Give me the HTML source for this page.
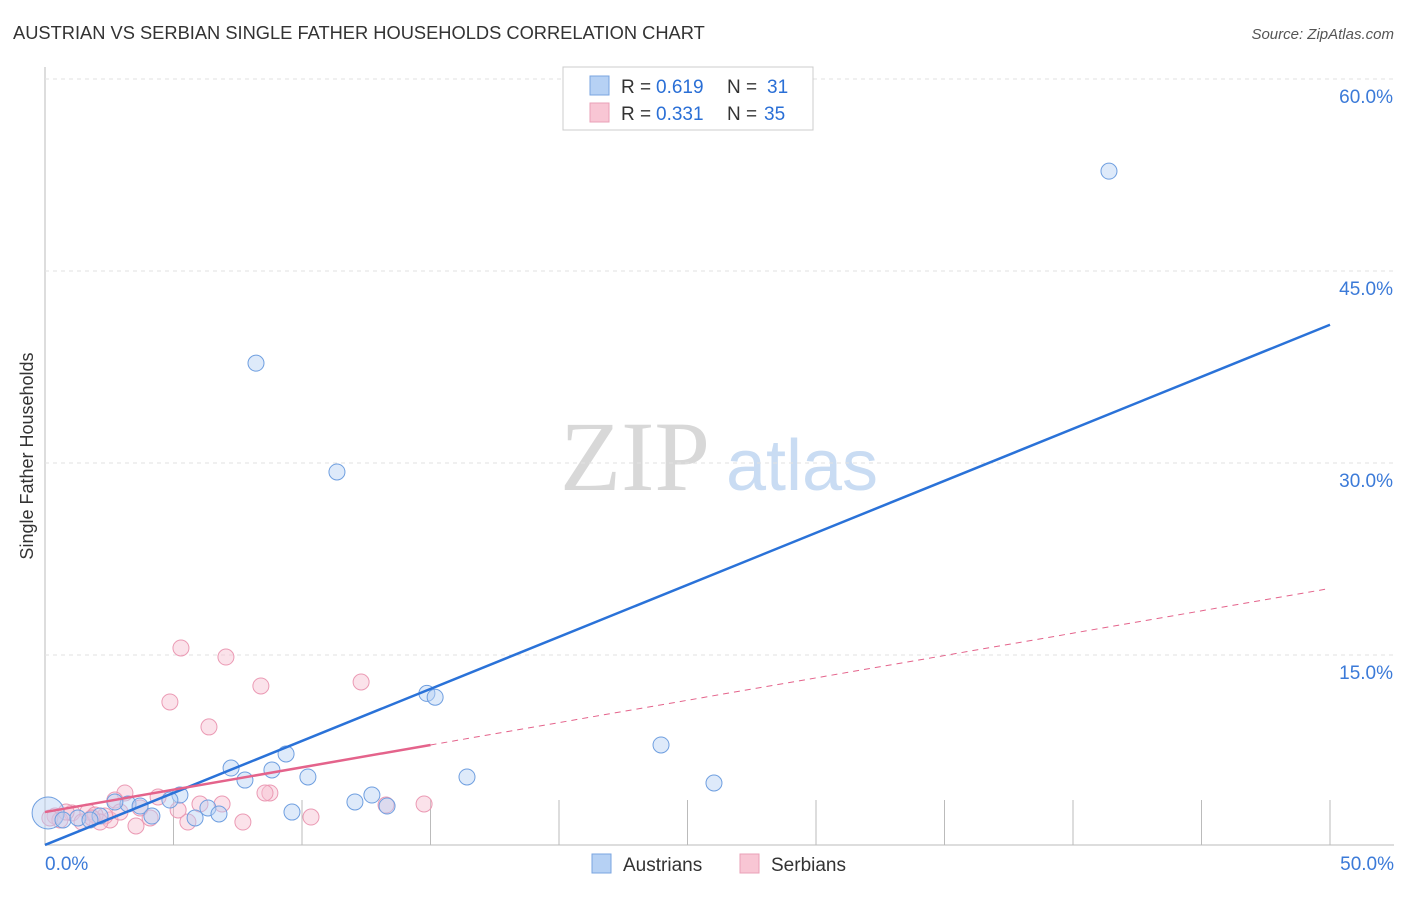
<!DOCTYPE html>
<html><head><meta charset="utf-8"><style>
body{margin:0;background:#fff;font-family:"Liberation Sans",sans-serif}
svg text{font-family:"Liberation Sans",sans-serif}
</style></head><body>
<svg id="c" width="1406" height="892">
<text x="13" y="39" font-size="18.3" fill="#333">AUSTRIAN VS SERBIAN SINGLE FATHER HOUSEHOLDS CORRELATION CHART</text>
<text x="1394" y="39" font-size="15" fill="#555" font-style="italic" text-anchor="end">Source: ZipAtlas.com</text>
<text x="33" y="456" font-size="18" fill="#333" text-anchor="middle" transform="rotate(-90 33 456)">Single Father Households</text>
<text x="635" y="490" font-size="100" fill="#d8d8d8" style="font-family:'Liberation Serif',serif" text-anchor="middle">ZIP</text>
<text x="802" y="490" font-size="72" fill="#c9dcf3" text-anchor="middle">atlas</text>
<g id="grid"></g><g id="marks"></g>
<g>
<rect x="563" y="67" width="250" height="63" fill="#fff" stroke="#ccc"/>
<rect x="590" y="76" width="19" height="19" fill="#b6d1f4" stroke="#7aa5e0"/>
<rect x="590" y="103" width="19" height="19" fill="#f8c6d4" stroke="#eaa0b7"/>
<text x="621" y="93" font-size="19" fill="#333">R =</text>
<text x="656" y="93" font-size="19" fill="#2a6fd6">0.619</text>
<text x="727" y="93" font-size="19" fill="#333">N =</text>
<text x="767" y="93" font-size="19" fill="#2a6fd6">31</text>
<text x="621" y="120" font-size="19" fill="#333">R =</text>
<text x="656" y="120" font-size="19" fill="#2a6fd6">0.331</text>
<text x="727" y="120" font-size="19" fill="#333">N =</text>
<text x="764" y="120" font-size="19" fill="#2a6fd6">35</text>
</g>
<g>
<rect x="592" y="854" width="19" height="19" fill="#b6d1f4" stroke="#7aa5e0"/>
<text x="623" y="871" font-size="19" fill="#333">Austrians</text>
<rect x="740" y="854" width="19" height="19" fill="#f8c6d4" stroke="#eaa0b7"/>
<text x="771" y="871" font-size="19" fill="#333">Serbians</text>
</g>
</svg>
<script>
const yTicks=[15,30,45,60];
const xLabels=["0.0%","50.0%"];
const ausX=[41.4,8.21,11.36,14.86,15.18,23.97,26.03,7.24,9.38,7.78,8.83,10.23,16.42,5.25,4.86,12.06,12.72,13.31,9.61,6.34,6.77,5.84,4.16,3.23,2.72,3.70,0.12,0.70,1.28,2.14,1.75];
const ausY=[52.8,37.8,29.3,12.0,11.7,7.97,5.0,6.17,7.27,5.23,6.02,5.47,5.47,4.06,3.67,3.52,4.06,3.2,2.73,3.05,2.58,2.27,2.42,3.36,3.52,3.2,2.66,2.11,2.27,2.42,2.11];
const serX=[5.29,7.04,4.86,8.40,12.30,6.38,3.11,4.40,2.72,8.75,8.56,6.03,6.89,14.75,10.35,7.70,5.56,3.54,4.09,2.53,2.33,1.67,1.05,0.39,0.58,1.44,1.95,3.70,2.14,0.19,2.92,0.82,1.83,5.18,13.27];
const serY=[15.55,14.84,11.33,12.58,12.89,9.38,4.22,3.91,3.67,4.22,4.22,3.36,3.36,3.36,2.34,1.95,1.95,1.64,2.27,2.11,2.42,2.73,2.66,2.42,2.11,1.95,2.5,3.05,1.95,2.27,2.73,2.73,2.27,2.89,3.28];
const ausFit=[0.16,40.8];
const serFit=[2.73,20.2];
const X=v=>45+v/50*1285, Y=v=>847-v*12.8;
const NS="http://www.w3.org/2000/svg";
function mk(t,a,p){const e=document.createElementNS(NS,t);for(const k in a)e.setAttribute(k,a[k]);p.appendChild(e);return e;}
const g=document.getElementById('grid'),m=document.getElementById('marks');
let ax=mk('line',{x1:45,y1:67,x2:45,y2:845,stroke:'#bbb'},g);


let bx=mk('line',{x1:45,y1:845,x2:1394,y2:845,stroke:'#bbb'},g);


yTicks.forEach(t=>{
 const l=mk('line',{x1:45,x2:1394,y1:Y(t),y2:Y(t),stroke:'#e2e2e2','stroke-dasharray':'4 4'},g);
 
 
 const tx=mk('text',{x:1393,y:Y(t)+24,'font-size':19,fill:'#3b7ad8','text-anchor':'end'},g);tx.textContent=t.toFixed(1)+'%';
 
 
});
for(let i=1;i<=10;i++){const l=mk('line',{x1:X(i*5),x2:X(i*5),y1:800,y2:845,stroke:'#bbb'},g);
 
 }
[[0,'start',45],[50,'end',1394]].forEach((d,i)=>{const t=mk('text',{x:d[2],y:870,'font-size':19,fill:'#3b7ad8','text-anchor':d[1]},g);t.textContent=xLabels[i];
 
 });
function pts(xs,ys,f,s,n){xs.forEach((x,i)=>{const c=mk('circle',{cx:X(x),cy:Y(ys[i]),r:(x<0.5&&n=='austrian')?16:8,fill:f,'fill-opacity':0.45,stroke:s,'stroke-width':1},m);
 
 });}
pts(serX,serY,'#f6bfd0','#eb9ab4','serbian');
pts(ausX,ausY,'#b6d1f4','#6f9fe0','austrian');
let l1=mk('line',{x1:X(0),y1:Y(ausFit[0]),x2:X(50),y2:Y(ausFit[1]),stroke:'#2a72d8','stroke-width':2.5},m);


const sy=v=>serFit[0]+(serFit[1]-serFit[0])*v/50;
let l2=mk('line',{x1:X(0),y1:Y(sy(0)),x2:X(15),y2:Y(sy(15)),stroke:'#e4638b','stroke-width':2.5},m);


let l3=mk('line',{x1:X(15),y1:Y(sy(15)),x2:X(50),y2:Y(sy(50)),stroke:'#e4638b','stroke-width':1,'stroke-dasharray':'6 5'},m);


</script>
</body></html>
